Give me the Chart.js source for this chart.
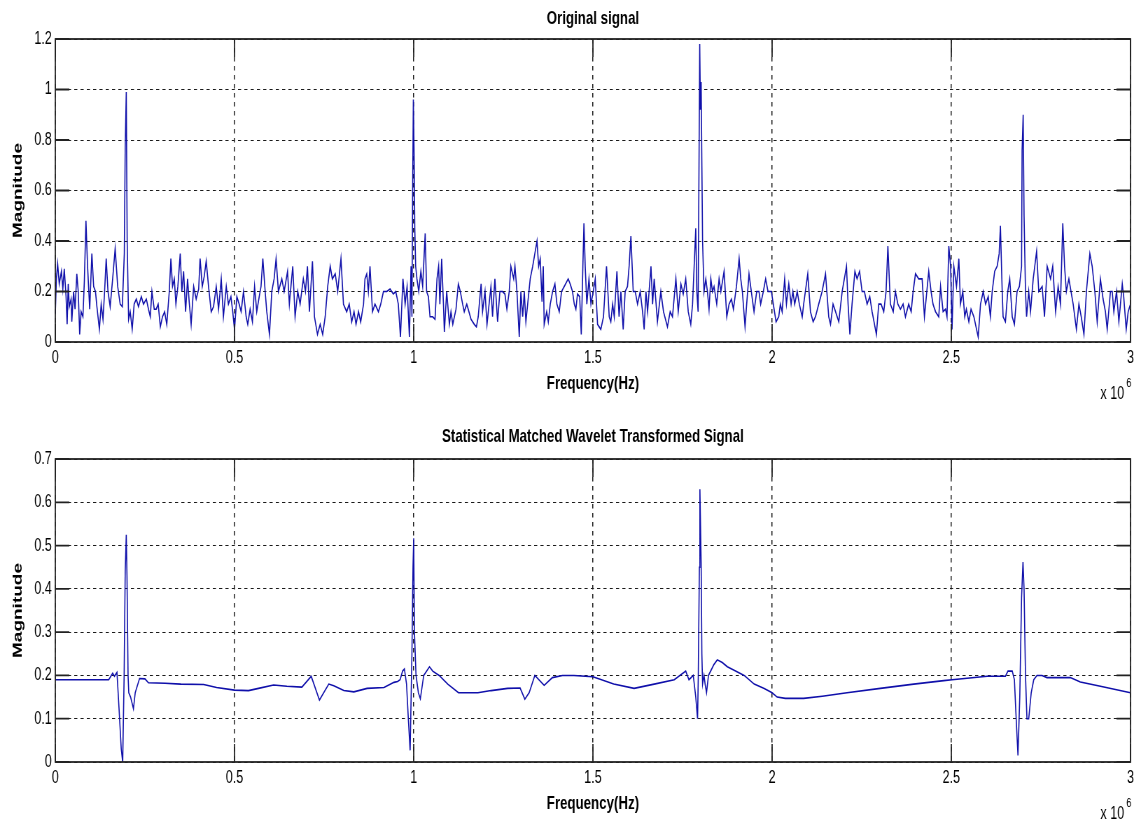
<!DOCTYPE html>
<html>
<head>
<meta charset="utf-8">
<title>Original signal / Statistical Matched Wavelet Transformed Signal</title>
<script src="https://cdn.jsdelivr.net/npm/chart.js@4.4.0/dist/chart.umd.min.js"></script>
<style>
  html, body { margin: 0; padding: 0; background: #fff; overflow: hidden; }
  /* the reference is a horizontally squeezed MATLAB figure */
  .squeeze { position: absolute; left: 0; transform: scaleX(0.7); transform-origin: 0 0; }
</style>
</head>
<body>
<div class="squeeze" style="top:0"><canvas id="topChart" width="1626" height="410"></canvas></div>
<div class="squeeze" style="top:410px"><canvas id="bottomChart" width="1626" height="411"></canvas></div>
<script>
'use strict';

// frequency values are in units of 10^6 Hz (axis shows "x 10^6")
const xTicks = [0, 0.5, 1, 1.5, 2, 2.5, 3];

const originalFreq = [
  0.000, 0.003, 0.0065, 0.011, 0.017, 0.021, 0.025, 0.030, 0.033, 0.036, 0.039, 0.044, 0.046, 0.051, 0.055,
  0.060, 0.064, 0.068, 0.072, 0.077, 0.081, 0.0855, 0.090, 0.096, 0.102, 0.107, 0.112, 0.116, 0.123, 0.128,
  0.133, 0.1375, 0.142, 0.147, 0.153, 0.160, 0.167, 0.174, 0.181, 0.187, 0.1925, 0.195, 0.198, 0.2005, 0.2045,
  0.209, 0.2145, 0.220, 0.226, 0.232, 0.240, 0.246, 0.254, 0.260, 0.265, 0.2695, 0.276, 0.2815, 0.287, 0.293,
  0.299, 0.305, 0.311, 0.318, 0.3225, 0.327, 0.332, 0.3365, 0.342, 0.3485, 0.353, 0.358, 0.3635, 0.369, 0.3735,
  0.379, 0.386, 0.393, 0.400, 0.404, 0.410, 0.4155, 0.421, 0.4275, 0.435, 0.4415, 0.449, 0.4555, 0.463, 0.469,
  0.477, 0.483, 0.490, 0.495, 0.500, 0.5065, 0.513, 0.5185, 0.525, 0.5325, 0.537, 0.5435, 0.550, 0.556, 0.562,
  0.569, 0.574, 0.579, 0.5855, 0.590, 0.5975, 0.604, 0.6105, 0.616, 0.6225, 0.632, 0.6385, 0.648, 0.653, 0.6625,
  0.669, 0.6765, 0.683, 0.692, 0.698, 0.7035, 0.709, 0.7175, 0.723, 0.7315, 0.739, 0.746, 0.753, 0.760, 0.767,
  0.773, 0.781, 0.788, 0.797, 0.804, 0.813, 0.820, 0.827, 0.8335, 0.839, 0.846, 0.852, 0.860, 0.864, 0.869,
  0.8735, 0.878, 0.885, 0.892, 0.9015, 0.908, 0.9155, 0.925, 0.934, 0.943, 0.950, 0.957, 0.963, 0.970, 0.976,
  0.9815, 0.988, 0.9925, 0.995, 0.997, 0.999, 1.001, 1.003, 1.0055, 1.009, 1.014, 1.020, 1.025, 1.032, 1.036,
  1.041, 1.0455, 1.053, 1.0595, 1.065, 1.0695, 1.073, 1.078, 1.083, 1.0855, 1.092, 1.0995, 1.104, 1.109, 1.1135,
  1.118, 1.1245, 1.130, 1.1365, 1.141, 1.148, 1.152, 1.160, 1.169, 1.175, 1.180, 1.188, 1.192, 1.199, 1.2045,
  1.211, 1.2155, 1.220, 1.2265, 1.234, 1.2405, 1.248, 1.2545, 1.260, 1.2665, 1.271, 1.279, 1.2825, 1.288, 1.2945,
  1.299, 1.304, 1.3085, 1.313, 1.318, 1.325, 1.332, 1.338, 1.344, 1.3485, 1.353, 1.358, 1.3615, 1.364, 1.371,
  1.3755, 1.381, 1.3875, 1.394, 1.3995, 1.406, 1.4125, 1.420, 1.431, 1.4365, 1.443, 1.448, 1.4525, 1.457, 1.463,
  1.4675, 1.472, 1.475, 1.4785, 1.483, 1.489, 1.4945, 1.501, 1.5065, 1.513, 1.522, 1.5295, 1.538, 1.5455, 1.550,
  1.555, 1.5595, 1.567, 1.573, 1.578, 1.5845, 1.590, 1.5965, 1.601, 1.606, 1.6125, 1.618, 1.6245, 1.632, 1.6385,
  1.643, 1.648, 1.6525, 1.662, 1.6665, 1.671, 1.680, 1.6895, 1.697, 1.708, 1.7155, 1.722, 1.7315, 1.738, 1.7455,
  1.752, 1.759, 1.766, 1.773, 1.778, 1.7825, 1.787, 1.790, 1.7935, 1.796, 1.798, 1.800, 1.802, 1.804, 1.806,
  1.810, 1.815, 1.8195, 1.824, 1.829, 1.8335, 1.838, 1.8455, 1.852, 1.857, 1.866, 1.8735, 1.880, 1.8865, 1.892,
  1.9005, 1.908, 1.9125, 1.917, 1.9245, 1.929, 1.9355, 1.942, 1.9495, 1.957, 1.9635, 1.968, 1.9755, 1.982, 1.9885,
  1.998, 2.011, 2.0185, 2.023, 2.028, 2.035, 2.040, 2.0465, 2.053, 2.058, 2.063, 2.070, 2.076, 2.084, 2.088,
  2.0995, 2.107, 2.1145, 2.121, 2.130, 2.1395, 2.149, 2.158, 2.163, 2.170, 2.177, 2.186, 2.1955, 2.2075, 2.212,
  2.217, 2.223, 2.231, 2.237, 2.244, 2.251, 2.2575, 2.265, 2.2725, 2.279, 2.291, 2.2975, 2.304, 2.3115, 2.318,
  2.323, 2.330, 2.338, 2.344, 2.351, 2.358, 2.3655, 2.372, 2.381, 2.388, 2.3935, 2.400, 2.409, 2.4185, 2.425,
  2.437, 2.4435, 2.449, 2.456, 2.465, 2.470, 2.477, 2.484, 2.488, 2.493, 2.498, 2.502, 2.507, 2.5145, 2.521,
  2.5255, 2.532, 2.5375, 2.542, 2.549, 2.555, 2.563, 2.575, 2.5815, 2.589, 2.5955, 2.603, 2.609, 2.614, 2.621,
  2.628, 2.6335, 2.637, 2.642, 2.6445, 2.651, 2.6575, 2.663, 2.670, 2.676, 2.6835, 2.690, 2.696, 2.6975, 2.7005,
  2.703, 2.707, 2.710, 2.716, 2.721, 2.7285, 2.738, 2.744, 2.7535, 2.760, 2.7675, 2.777, 2.783, 2.791, 2.798,
  2.8045, 2.811, 2.816, 2.821, 2.828, 2.834, 2.840, 2.849, 2.856, 2.8625, 2.870, 2.877, 2.8865, 2.893, 2.9005,
  2.907, 2.916, 2.9235, 2.930, 2.935, 2.944, 2.949, 2.9535, 2.961, 2.9675, 2.977, 2.981, 2.988, 2.9935, 3.000
];
const originalMag = [
  0.11, 0.25, 0.31, 0.23, 0.28, 0.21, 0.29, 0.18, 0.07, 0.23, 0.14, 0.17, 0.08, 0.20, 0.13,
  0.27, 0.20, 0.03, 0.12, 0.10, 0.24, 0.48, 0.30, 0.13, 0.35, 0.22, 0.20, 0.14, 0.05, 0.15,
  0.09, 0.20, 0.33, 0.20, 0.14, 0.25, 0.37, 0.22, 0.15, 0.14, 0.35, 0.77, 0.99, 0.40, 0.09,
  0.12, 0.05, 0.15, 0.17, 0.14, 0.18, 0.15, 0.17, 0.13, 0.10, 0.20, 0.13, 0.13, 0.15, 0.06,
  0.10, 0.12, 0.07, 0.20, 0.33, 0.22, 0.25, 0.15, 0.22, 0.35, 0.20, 0.28, 0.12, 0.25, 0.16,
  0.07, 0.22, 0.17, 0.21, 0.33, 0.22, 0.26, 0.32, 0.22, 0.12, 0.14, 0.22, 0.13, 0.25, 0.10,
  0.22, 0.15, 0.18, 0.12, 0.05, 0.18, 0.15, 0.12, 0.20, 0.10, 0.07, 0.13, 0.08, 0.22, 0.12,
  0.18, 0.22, 0.33, 0.20, 0.12, 0.03, 0.20, 0.25, 0.33, 0.20, 0.25, 0.20, 0.28, 0.15, 0.30,
  0.10, 0.20, 0.15, 0.25, 0.20, 0.30, 0.12, 0.32, 0.10, 0.03, 0.07, 0.03, 0.10, 0.22, 0.30,
  0.25, 0.27, 0.20, 0.33, 0.15, 0.12, 0.15, 0.08, 0.12, 0.07, 0.12, 0.08, 0.15, 0.25, 0.27,
  0.20, 0.30, 0.12, 0.15, 0.12, 0.15, 0.20, 0.20, 0.21, 0.19, 0.20, 0.15, 0.02, 0.25, 0.15,
  0.22, 0.02, 0.30, 0.10, 0.60, 0.96, 0.76, 0.45, 0.30, 0.25, 0.20, 0.28, 0.22, 0.43, 0.20,
  0.18, 0.10, 0.10, 0.09, 0.25, 0.30, 0.15, 0.33, 0.15, 0.04, 0.20, 0.07, 0.12, 0.07, 0.10,
  0.13, 0.23, 0.20, 0.15, 0.12, 0.15, 0.13, 0.09, 0.07, 0.06, 0.10, 0.23, 0.12, 0.20, 0.07,
  0.16, 0.22, 0.10, 0.25, 0.08, 0.20, 0.20, 0.19, 0.13, 0.20, 0.30, 0.25, 0.30, 0.20, 0.02,
  0.20, 0.10, 0.20, 0.08, 0.15, 0.25, 0.30, 0.35, 0.40, 0.30, 0.33, 0.16, 0.30, 0.07, 0.12,
  0.08, 0.15, 0.20, 0.23, 0.15, 0.12, 0.20, 0.22, 0.25, 0.23, 0.20, 0.15, 0.13, 0.19, 0.18,
  0.03, 0.30, 0.47, 0.30, 0.15, 0.25, 0.15, 0.20, 0.25, 0.07, 0.05, 0.10, 0.30, 0.10, 0.08,
  0.15, 0.10, 0.28, 0.10, 0.20, 0.05, 0.20, 0.22, 0.30, 0.42, 0.20, 0.20, 0.15, 0.20, 0.12,
  0.05, 0.20, 0.12, 0.30, 0.15, 0.25, 0.08, 0.20, 0.12, 0.06, 0.12, 0.10, 0.25, 0.12, 0.23,
  0.19, 0.25, 0.12, 0.07, 0.15, 0.30, 0.45, 0.20, 0.12, 0.70, 1.18, 0.92, 1.03, 0.70, 0.40,
  0.20, 0.25, 0.20, 0.13, 0.25, 0.20, 0.22, 0.15, 0.25, 0.20, 0.28, 0.10, 0.15, 0.17, 0.13,
  0.22, 0.33, 0.25, 0.20, 0.06, 0.15, 0.27, 0.20, 0.12, 0.20, 0.20, 0.15, 0.20, 0.25, 0.20,
  0.20, 0.08, 0.10, 0.15, 0.12, 0.25, 0.15, 0.23, 0.15, 0.20, 0.15, 0.20, 0.15, 0.10, 0.15,
  0.27, 0.12, 0.08, 0.10, 0.15, 0.20, 0.27, 0.10, 0.07, 0.15, 0.12, 0.08, 0.20, 0.30, 0.15,
  0.03, 0.15, 0.28, 0.25, 0.28, 0.20, 0.20, 0.15, 0.18, 0.12, 0.03, 0.15, 0.15, 0.12, 0.20,
  0.38, 0.15, 0.12, 0.20, 0.15, 0.13, 0.15, 0.10, 0.15, 0.12, 0.20, 0.27, 0.25, 0.25, 0.10,
  0.28, 0.20, 0.15, 0.12, 0.10, 0.22, 0.12, 0.13, 0.10, 0.38, 0.30, 0.05, 0.30, 0.22, 0.33,
  0.15, 0.20, 0.10, 0.13, 0.08, 0.13, 0.10, 0.02, 0.15, 0.20, 0.15, 0.18, 0.10, 0.20, 0.28,
  0.30, 0.35, 0.46, 0.20, 0.10, 0.08, 0.20, 0.25, 0.10, 0.07, 0.20, 0.22, 0.30, 0.76, 0.90,
  0.50, 0.20, 0.10, 0.20, 0.12, 0.25, 0.36, 0.20, 0.22, 0.10, 0.30, 0.25, 0.30, 0.12, 0.22,
  0.15, 0.47, 0.30, 0.20, 0.25, 0.20, 0.15, 0.05, 0.15, 0.10, 0.03, 0.20, 0.35, 0.30, 0.20,
  0.08, 0.25, 0.17, 0.12, 0.05, 0.20, 0.20, 0.12, 0.20, 0.08, 0.23, 0.18, 0.05, 0.12, 0.15
];

const waveletFreq = [
  0.000, 0.149, 0.160, 0.165, 0.172, 0.178, 0.184, 0.188, 0.192, 0.195, 0.198, 0.200, 0.203, 0.205, 0.210,
  0.218, 0.223, 0.235, 0.250, 0.260, 0.306, 0.350, 0.414, 0.450, 0.500, 0.539, 0.567, 0.609, 0.646, 0.688,
  0.714, 0.737, 0.763, 0.777, 0.805, 0.833, 0.870, 0.917, 0.945, 0.955, 0.962, 0.969, 0.974, 0.980, 0.985,
  0.990, 0.995, 0.998, 1.000, 1.002, 1.0065, 1.013, 1.0185, 1.028, 1.044, 1.053, 1.071, 1.095, 1.125, 1.179,
  1.216, 1.262, 1.297, 1.310, 1.322, 1.338, 1.364, 1.387, 1.415, 1.447, 1.500, 1.558, 1.615, 1.671, 1.727,
  1.759, 1.768, 1.780, 1.787, 1.792, 1.794, 1.797, 1.7985, 1.800, 1.802, 1.804, 1.806, 1.810, 1.813, 1.817,
  1.8225, 1.8375, 1.847, 1.861, 1.875, 1.898, 1.922, 1.950, 1.978, 2.000, 2.014, 2.037, 2.088, 2.140, 2.209,
  2.302, 2.395, 2.479, 2.502, 2.600, 2.651, 2.658, 2.670, 2.676, 2.681, 2.686, 2.691, 2.696, 2.700, 2.703,
  2.707, 2.711, 2.716, 2.723, 2.730, 2.739, 2.753, 2.767, 2.832, 2.860, 2.916, 3.000
];
const waveletMag = [
  0.190, 0.190, 0.205, 0.198, 0.207, 0.120, 0.030, 0.000, 0.200, 0.440, 0.525, 0.430, 0.200, 0.160, 0.150,
  0.123, 0.160, 0.193, 0.192, 0.183, 0.182, 0.180, 0.179, 0.172, 0.166, 0.165, 0.170, 0.178, 0.175, 0.173,
  0.198, 0.143, 0.180, 0.176, 0.165, 0.162, 0.170, 0.172, 0.184, 0.186, 0.190, 0.210, 0.215, 0.180, 0.100,
  0.027, 0.250, 0.450, 0.517, 0.300, 0.200, 0.160, 0.146, 0.200, 0.220, 0.210, 0.200, 0.180, 0.160, 0.160,
  0.165, 0.170, 0.171, 0.145, 0.160, 0.200, 0.177, 0.195, 0.200, 0.200, 0.197, 0.180, 0.170, 0.180, 0.190,
  0.210, 0.190, 0.200, 0.150, 0.100, 0.200, 0.450, 0.630, 0.560, 0.460, 0.250, 0.180, 0.200, 0.180, 0.160,
  0.200, 0.225, 0.236, 0.230, 0.220, 0.210, 0.200, 0.180, 0.170, 0.160, 0.150, 0.147, 0.147, 0.152, 0.160,
  0.170, 0.180, 0.188, 0.190, 0.198, 0.198, 0.210, 0.210, 0.190, 0.100, 0.015, 0.150, 0.380, 0.462, 0.400,
  0.200, 0.100, 0.100, 0.160, 0.190, 0.200, 0.200, 0.195, 0.195, 0.185, 0.175, 0.160
];

Chart.defaults.font.family = "'Liberation Sans', Arial, Helvetica, sans-serif";
Chart.defaults.color = '#000';

function tickText(value) {
  return String(+value.toFixed(2));
}

// box round the plot, inward solid ticks, and the "x 10^6" exponent
const matlabFrame = {
  id: 'matlabFrame',
  afterDraw(chart) {
    const {ctx, chartArea: a, scales: {x, y}} = chart;
    ctx.save();
    ctx.setLineDash([]);
    ctx.strokeStyle = '#222';
    ctx.lineWidth = 1.8;
    ctx.strokeRect(a.left, a.top, a.right - a.left, a.bottom - a.top);
    ctx.beginPath();
    y.ticks.forEach(function(t) {
      const py = y.getPixelForValue(t.value);
      ctx.moveTo(a.left, py);
      ctx.lineTo(a.left + 20, py);
      ctx.moveTo(a.right, py);
      ctx.lineTo(a.right - 20, py);
    });
    x.ticks.forEach(function(t) {
      const px = x.getPixelForValue(t.value);
      ctx.moveTo(px, a.bottom);
      ctx.lineTo(px, a.bottom - 18);
      ctx.moveTo(px, a.top);
      ctx.lineTo(px, a.top + 18);
    });
    ctx.stroke();
    ctx.fillStyle = '#000';
    ctx.textBaseline = 'alphabetic';
    ctx.font = "18px 'Liberation Sans', Arial, sans-serif";
    ctx.textAlign = 'right';
    ctx.fillText('x 10', a.right - 9, a.bottom + 57);
    ctx.font = "13px 'Liberation Sans', Arial, sans-serif";
    ctx.textAlign = 'left';
    ctx.fillText('6', a.right - 6, a.bottom + 45);
    ctx.restore();
  }
};

function createSignalChart(canvas, title, freq, mag, yMax, yStep, box) {
  const points = [];
  for (let i = 0; i < freq.length; i++) {
    points.push({x: freq[i], y: mag[i]});
  }
  const borderOpts = { display: false, dash: [4.5, 4.5] };
  return new Chart(canvas, {
    type: 'line',
    data: {
      datasets: [{
        data: points,
        borderColor: '#1010aa',
        borderWidth: 1.6,
        pointRadius: 0,
        tension: 0,
        fill: false
      }]
    },
    options: {
      responsive: false,
      animation: false,
      events: [],
      layout: { padding: { left: 0, right: 11, top: 0, bottom: 0 } },
      plugins: {
        legend: { display: false },
        tooltip: { enabled: false },
        title: {
          display: true,
          text: title,
          fullSize: false,
          color: '#000',
          font: { size: 19, weight: 'bold' },
          padding: { top: box.titleTop, bottom: box.titleBottom }
        }
      },
      scales: {
        x: {
          type: 'linear',
          min: 0,
          max: 3,
          afterFit: function(sc) { sc.height = box.xHeight; },
          afterBuildTicks: function(sc) { sc.ticks = xTicks.map(v => ({value: v})); },
          ticks: { padding: 5, font: { size: 18 }, color: '#000', maxRotation: 0, autoSkip: false, callback: tickText },
          // vertical lines get squeezed by the transform, so draw them a bit wider
          grid: { color: '#1a1a1a', lineWidth: 1.5, drawTicks: false },
          border: borderOpts,
          title: {
            display: true,
            text: 'Frequency(Hz)',
            color: '#000',
            font: { size: 19, weight: 'bold' },
            padding: { top: 0, bottom: box.xTitleBottom }
          }
        },
        y: {
          min: 0,
          max: yMax,
          afterFit: function(sc) { sc.width = 79; },
          ticks: { stepSize: yStep, padding: 5, font: { size: 18 }, color: '#000', callback: tickText },
          grid: { color: '#1a1a1a', lineWidth: 1, drawTicks: false },
          border: borderOpts,
          title: {
            display: true,
            text: 'Magnitude',
            color: '#000',
            font: { size: 19, weight: 'bold' },
            padding: { top: 14, bottom: 0 }
          }
        }
      }
    },
    plugins: [matlabFrame]
  });
}

createSignalChart(document.getElementById('topChart'), 'Original signal',
  originalFreq, originalMag, 1.2, 0.2,
  { titleTop: 7.6, titleBottom: 8.6, xHeight: 68, xTitleBottom: 15 });

createSignalChart(document.getElementById('bottomChart'), 'Statistical Matched Wavelet Transformed Signal',
  waveletFreq, waveletMag, 0.7, 0.1,
  { titleTop: 15.6, titleBottom: 10.6, xHeight: 59, xTitleBottom: 6 });
</script>
</body>
</html>
